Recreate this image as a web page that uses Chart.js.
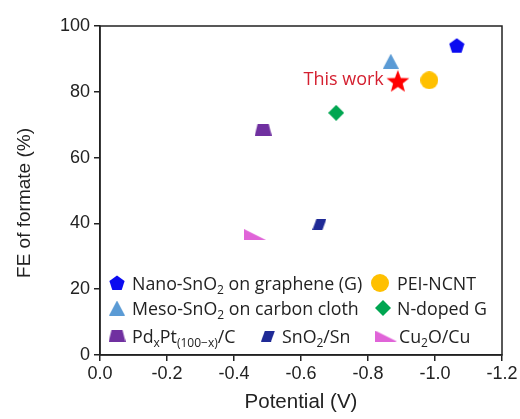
<!DOCTYPE html>
<html lang="en">
<head>
<meta charset="UTF-8">
<title>FE of formate vs potential</title>
<script src="https://cdn.jsdelivr.net/npm/chart.js"></script>
<style>
  html, body { margin: 0; padding: 0; background: #ffffff; }
  #wrap { width: 520px; height: 419px; }
</style>
</head>
<body>
<div id="wrap"><canvas id="feChart" width="520" height="419"></canvas></div>
<script>
// Data
const names = ['Nano-SnO2 on graphene (G)', 'Meso-SnO2 on carbon cloth', 'PdxPt(100-x)/C',
               'SnO2/Sn', 'PEI-NCNT', 'N-doped G', 'Cu2O/Cu', 'This work'];
const potentials = [-1.065, -0.868, -0.487, -0.655, -0.983, -0.705, -0.463, -0.889];
const feValues = [94.0, 89.3, 68.5, 39.7, 83.5, 73.6, 36.6, 83.3];
const colors = ['#0b0bf0', '#5b9bd5', '#7030a0', '#1f2a96', '#ffc000', '#00a651', '#e064d8', '#ff0000'];
const shapes = ['pentagon', 'triangle', 'trapezoid', 'parallelogram', 'circle', 'diamond', 'wedge', 'star'];
const xTicks = [0.0, -0.2, -0.4, -0.6, -0.8, -1.0, -1.2];
const yTicks = [0, 20, 40, 60, 80, 100];

// legend text pieces, second item 1 = subscript
const legendText = [
  [['Nano-SnO'], ['2', 1], [' on graphene (G)']],
  [['Meso-SnO'], ['2', 1], [' on carbon cloth']],
  [['Pd'], ['x', 1], ['Pt'], ['(100\u2212x)', 1], ['/C']],
  [['SnO'], ['2', 1], ['/Sn']],
  [['PEI-NCNT']],
  [['N-doped G']],
  [['Cu'], ['2', 1], ['O/Cu']]
];

function markerCanvas(shape, color) {
  const dims = {
    pentagon: [16, 16], triangle: [16, 15], trapezoid: [17, 12], parallelogram: [14, 11],
    circle: [18, 18], diamond: [16, 16], wedge: [22, 11], star: [24, 23]
  };
  const [w, h] = dims[shape];
  const c = document.createElement('canvas');
  c.width = w; c.height = h;
  const g = c.getContext('2d');
  g.fillStyle = color;
  g.beginPath();
  if (shape === 'pentagon' || shape === 'star') {
    const n = shape === 'star' ? 10 : 5;
    const R = w / 2, r = shape === 'star' ? R * 0.42 : R;
    for (let i = 0; i < n; i++) {
      const a = -Math.PI / 2 + i * 2 * Math.PI / n;
      const rad = (shape === 'star' && i % 2) ? r : R;
      g.lineTo(w / 2 + rad * Math.cos(a), R + 0.5 + rad * Math.sin(a));
    }
  } else if (shape === 'triangle') {
    g.moveTo(w / 2, 0); g.lineTo(w, h); g.lineTo(0, h);
  } else if (shape === 'trapezoid') {
    g.moveTo(3, 0); g.lineTo(w - 3, 0); g.lineTo(w, h); g.lineTo(0, h);
  } else if (shape === 'parallelogram') {
    g.moveTo(4, 0); g.lineTo(w, 0); g.lineTo(w - 4, h); g.lineTo(0, h);
  } else if (shape === 'circle') {
    g.arc(w / 2, h / 2, w / 2, 0, Math.PI * 2);
  } else if (shape === 'diamond') {
    g.moveTo(w / 2, 0); g.lineTo(w, h / 2); g.lineTo(w / 2, h); g.lineTo(0, h / 2);
  } else if (shape === 'wedge') {
    g.moveTo(0, 0); g.lineTo(w, h); g.lineTo(0, h);
  }
  g.closePath();
  g.fill();
  return c;
}

const markers = shapes.map((s, i) => markerCanvas(s, colors[i]));

const datasets = names.map((n, i) => ({
  label: n,
  data: [{ x: potentials[i], y: feValues[i] }],
  pointStyle: markers[i],
  backgroundColor: colors[i],
  borderColor: colors[i]
}));

// box, y title, "This work" label and legend inside the plot
const extras = {
  id: 'extras',
  afterDraw(chart) {
    const { ctx, chartArea: a, scales } = chart;
    ctx.save();
    ctx.strokeStyle = '#222';
    ctx.lineWidth = 1.5;
    ctx.strokeRect(a.left, a.top, a.right - a.left, a.bottom - a.top);

    // y axis title
    ctx.save();
    ctx.translate(25, 203);
    ctx.rotate(-Math.PI / 2);
    ctx.fillStyle = '#222';
    ctx.font = '19px "Liberation Sans", Arial, sans-serif';
    ctx.textAlign = 'center';
    ctx.textBaseline = 'middle';
    ctx.fillText('FE of formate (%)', 0, 0);
    ctx.restore();

    const sx = scales.x.getPixelForValue(potentials[7]);
    const sy = scales.y.getPixelForValue(feValues[7]);
    ctx.fillStyle = '#d42030';
    ctx.font = '18px "Open Sans"';
    ctx.textAlign = 'right';
    ctx.textBaseline = 'middle';
    ctx.fillText('This work', sx - 14, sy - 1);

    // legend layout: [marker x, text x, row y]
    const spots = [[117, 132, 283], [117, 132, 308], [117, 132, 336],
                   [268, 282, 336], [380, 397, 283], [383, 397, 308], [386, 399, 336]];
    ctx.textAlign = 'left';
    ctx.textBaseline = 'alphabetic';
    ctx.fillStyle = '#222';
    spots.forEach(([mx, tx, ry], i) => {
      const m = markers[i];
      ctx.drawImage(m, mx - m.width / 2, ry - m.height / 2);
      let x = tx;
      legendText[i].forEach(([t, sub]) => {
        ctx.font = sub ? '12px "Open Sans"' : '17.8px "Open Sans"';
        ctx.fillText(t, x, sub ? ry + 11 : ry + 6.5);
        x += ctx.measureText(t).width;
      });
    });
    ctx.restore();
  }
};

const tickFont = { family: 'Liberation Sans, Arial, sans-serif', size: 18 };
const titleFont = { family: 'Liberation Sans, Arial, sans-serif', size: 20.5 };

new Chart(document.getElementById('feChart'), {
  type: 'scatter',
  data: { datasets },
  options: {
    responsive: false,
    animation: false,
    layout: { padding: { top: 26, right: 18, left: 0, bottom: 0 } },
    plugins: { legend: { display: false }, tooltip: { enabled: false } },
    scales: {
      x: {
        type: 'linear', min: -1.2, max: 0, reverse: true,
        afterBuildTicks: ax => { ax.ticks = xTicks.map(v => ({ value: v })); },
        afterFit: ax => { ax.height = 64; },
        ticks: { color: '#222', font: tickFont, padding: 2, callback: v => v.toFixed(1) },
        grid: { drawOnChartArea: false, drawTicks: true, tickLength: 6, color: '#222', lineWidth: 1.5 },
        border: { color: '#222', width: 1.5 },
        title: { display: true, text: 'Potential (V)', color: '#222', font: titleFont, padding: { top: 7 } }
      },
      y: {
        min: 0, max: 100,
        afterBuildTicks: ax => { ax.ticks = yTicks.map(v => ({ value: v })); },
        afterFit: ax => { ax.width = 100; },
        ticks: { color: '#222', font: tickFont, padding: 4 },
        grid: { drawOnChartArea: false, drawTicks: true, tickLength: 6, color: '#222', lineWidth: 1.5 },
        border: { color: '#222', width: 1.5 }
      }
    }
  },
  plugins: [extras]
});
</script>
</body>
</html>
